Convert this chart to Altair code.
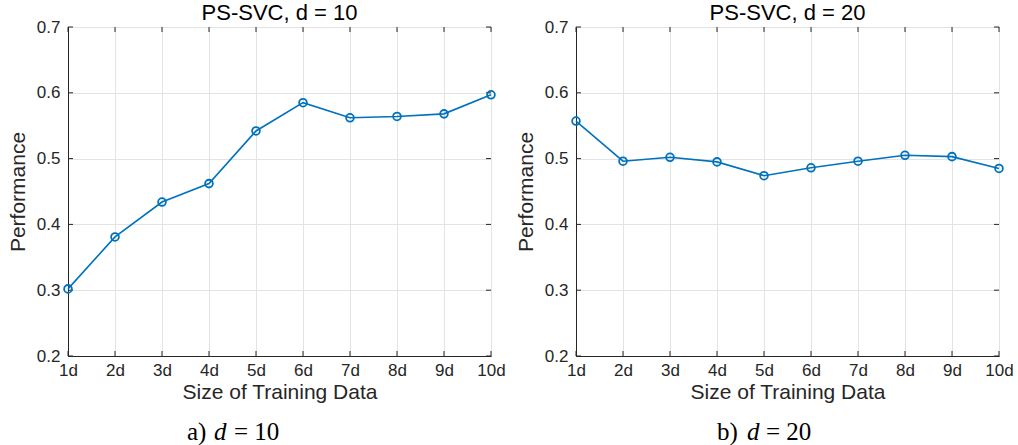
import altair as alt
import pandas as pd

sizes = [1, 2, 3, 4, 5, 6, 7, 8, 9, 10]
perf_d10 = [0.302, 0.381, 0.434, 0.462, 0.542, 0.585, 0.562, 0.564, 0.568, 0.597]
perf_d20 = [0.557, 0.496, 0.502, 0.495, 0.474, 0.486, 0.496, 0.505, 0.503, 0.485]
y_ticks = [0.2, 0.3, 0.4, 0.5, 0.6, 0.7]
titles = ["PS-SVC, d = 10", "PS-SVC, d = 20"]
captions = [("a)", "d", "= 10"), ("b)", "d", "= 20")]

W, H = 423, 329
BLUE = "#0072BD"
DARK = "#262626"
SANS = "Liberation Sans"
SERIF = "Liberation Serif"

XS = alt.Scale(domain=[1, 10], nice=False, zero=False)
YS = alt.Scale(domain=[0.2, 0.7], nice=False, zero=False)
XA = alt.Axis(values=sizes, labelExpr="datum.value + 'd'",
              title="Size of Training Data", labelFlush=False,
              labelOverlap=False, labelPadding=6, titlePadding=3)
YA = alt.Axis(values=y_ticks, format=".1f", title="Performance",
              labelFlush=False, labelOverlap=False,
              labelPadding=8, titlePadding=8)


def panel(values, title, caption, cap_x):
    df = pd.DataFrame({"size": sizes, "perf": values})
    x = alt.X("size:Q", scale=XS, axis=XA)
    y = alt.Y("perf:Q", scale=YS, axis=YA)
    base = alt.Chart(df)
    line = base.mark_line(color=BLUE, strokeWidth=1.6).encode(x=x, y=y)
    pts = base.mark_point(shape="circle", filled=False, color=BLUE, size=60,
                          strokeWidth=1.8, opacity=1).encode(x=x, y=y)

    xt = pd.DataFrame({"size": sizes})
    yt = pd.DataFrame({"perf": y_ticks})
    tick_b = alt.Chart(xt).mark_rule(color=DARK, strokeWidth=1).encode(
        x=x, y=alt.value(H), y2=alt.value(H - 5))
    tick_t = alt.Chart(xt).mark_rule(color=DARK, strokeWidth=1).encode(
        x=x, y=alt.value(0), y2=alt.value(5))
    tick_l = alt.Chart(yt).mark_rule(color=DARK, strokeWidth=1).encode(
        y=y, x=alt.value(0), x2=alt.value(5))
    tick_r = alt.Chart(yt).mark_rule(color=DARK, strokeWidth=1).encode(
        y=y, x=alt.value(W - 5), x2=alt.value(W))

    one = pd.DataFrame({"k": [0]})
    cap_y = 413
    c1 = alt.Chart(one).mark_text(text=caption[0], font=SERIF, fontSize=25,
                                  align="left", baseline="alphabetic", color="black").encode(
        x=alt.value(cap_x[0]), y=alt.value(cap_y))
    c2 = alt.Chart(one).mark_text(text=caption[1], font=SERIF, fontSize=25, fontStyle="italic",
                                  align="left", baseline="alphabetic", color="black").encode(
        x=alt.value(cap_x[1]), y=alt.value(cap_y))
    c3 = alt.Chart(one).mark_text(text=caption[2], font=SERIF, fontSize=25,
                                  align="left", baseline="alphabetic", color="black").encode(
        x=alt.value(cap_x[2]), y=alt.value(cap_y))

    return alt.layer(line, tick_b, tick_t, tick_l, tick_r, pts, c1, c2, c3).properties(
        width=W, height=H,
        title=alt.TitleParams(title, fontSize=22, fontWeight="normal", font=SANS,
                              color="black", offset=-7, anchor="middle"))


left = panel(perf_d10, titles[0], captions[0], (119, 146, 166))
right = panel(perf_d20, titles[1], captions[1], (141, 171, 190))

chart = alt.hconcat(left, right, spacing=8).properties(
    padding={"left": 6, "top": 1, "right": 0, "bottom": 0},
    background="white"
).configure_axis(
    gridColor="#e3e3e3", gridWidth=1, domainColor=DARK, domainWidth=1,
    labelColor=DARK, titleColor=DARK, labelFont=SANS, titleFont=SANS,
    labelFontSize=17, titleFontSize=21, titleFontWeight="normal", ticks=False
).configure_view(stroke=DARK, strokeWidth=1)

chart.save("out.html", embed_options={"renderer": "svg", "actions": False})
